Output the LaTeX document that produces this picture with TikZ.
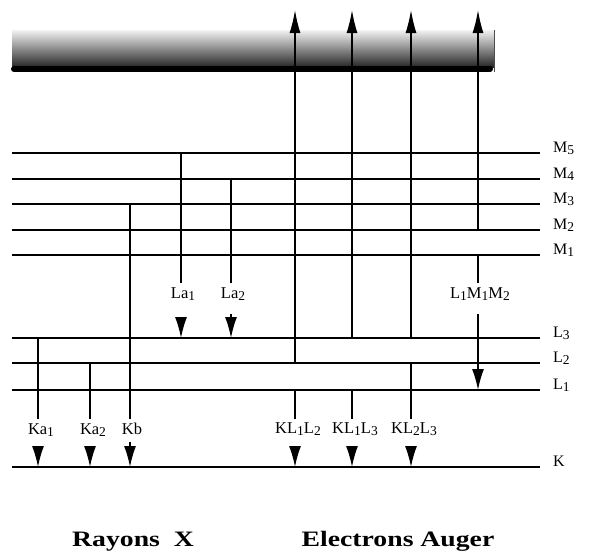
\documentclass[tikz,border=0pt]{standalone}
\usepackage{fontspec}
\setmainfont{Liberation Serif}
\usetikzlibrary{arrows.meta}
% subscript index used in the level and transition names
\newcommand\ix[1]{\raisebox{-0.3ex}{\fontsize{13.5}{13.5}\selectfont #1}}
\begin{document}
\begin{tikzpicture}[x=1pt,y=-1pt,
  level/.style={line width=1.6pt},
  trans/.style={line width=1.4pt},
  tipdown/.style={line width=1.4pt,-{Latex[length=21pt,width=12pt]}},
  tipup/.style={line width=1.4pt,-{Latex[length=23pt,width=11pt]}},
  lvlab/.style={anchor=base west,inner sep=0pt,font=\fontsize{16}{16}\selectfont},
  tlab/.style={anchor=base,inner sep=0pt,font=\fontsize{16.5}{16.5}\selectfont},
  title/.style={anchor=base,inner sep=0pt,xscale=1.26,font=\fontsize{22}{22}\selectfont\bfseries}]
\useasboundingbox (0,0) rectangle (590,554);

% continuum (vacuum level) band
\shade[top color=black!5,bottom color=black!85] (12,30) rectangle (494,67);
\draw[line width=0.6pt,black!70] (494.5,30) -- (494.5,72);
\draw[line width=6pt,line cap=round] (14,69) -- (490,69);

% energy levels
\foreach \n/\y/\t in {M5/153/M\ix{5},M4/179/M\ix{4},M3/204/M\ix{3},M2/230/M\ix{2},M1/255/M\ix{1},
                      L3/338/L\ix{3},L2/363/L\ix{2},L1/390/L\ix{1},K/467/K}{
  \coordinate (\n) at (12,\y);
  \draw[level] (\n) -- (540,\y);
  \node[lvlab] (lab\n) at (553,\y-1) {\t};
}

% X-ray transitions
\node[tlab] (ka1) at (41,434) {Ka\ix{1}};
\node[tlab] (ka2) at (93,434) {Ka\ix{2}};
\node[tlab] (kb)  at (132,434) {Kb};
\coordinate (ka1s) at (38,338); \coordinate (ka1e) at (38,467); \coordinate (ka1a) at (38,446);
\coordinate (ka2s) at (90,363); \coordinate (ka2e) at (90,467); \coordinate (ka2a) at (90,446);
\coordinate (kbs)  at (130,204); \coordinate (kbe) at (130,467); \coordinate (kba) at (130,442);
\draw[trans] (ka1s) -- (38,419);
\draw[trans] (ka2s) -- (90,419);
\draw[trans] (kbs) -- (130,419);
\draw[tipdown] (ka1a) -- (ka1e);
\draw[tipdown] (ka2a) -- (ka2e);
\draw[tipdown] (kba) -- (kbe);

\node[tlab] (la1) at (183,298) {La\ix{1}};
\node[tlab] (la2) at (233,298) {La\ix{2}};
\coordinate (la1s) at (181,153); \coordinate (la1a) at (181,317); \coordinate (la1e) at (181,338);
\coordinate (la2s) at (231,179); \coordinate (la2a) at (231,314); \coordinate (la2e) at (231,338);
\draw[trans] (la1s) -- (181,283);
\draw[trans] (la2s) -- (231,283);
\draw[tipdown] (la1a) -- (la1e);
\draw[tipdown] (la2a) -- (la2e);

% Auger transitions
\node[tlab] (a1) at (298,433) {KL\ix{1}L\ix{2}};
\node[tlab] (a2) at (355,433) {KL\ix{1}L\ix{3}};
\node[tlab] (a3) at (414,433) {KL\ix{2}L\ix{3}};
\node[tlab] (a4) at (480,298) {L\ix{1}M\ix{1}M\ix{2}};
\foreach \x/\top/\from in {295/363/390,352/338/390,411/338/363}{
  \draw[trans] (\x,\from) -- (\x,419);
  \draw[tipdown] (\x,446) -- (\x,467);
  \draw[tipup] (\x,\top) -- (\x,10);
}
\draw[trans] (478,255) -- (478,283);
\draw[tipdown] (478,314) -- (478,390);
\draw[tipup] (478,230) -- (478,10);

% captions
\node[title] (rx) at (133,546) {Rayons~~X};
\node[title] (ea) at (398,546) {Electrons Auger};
\end{tikzpicture}
\end{document}
